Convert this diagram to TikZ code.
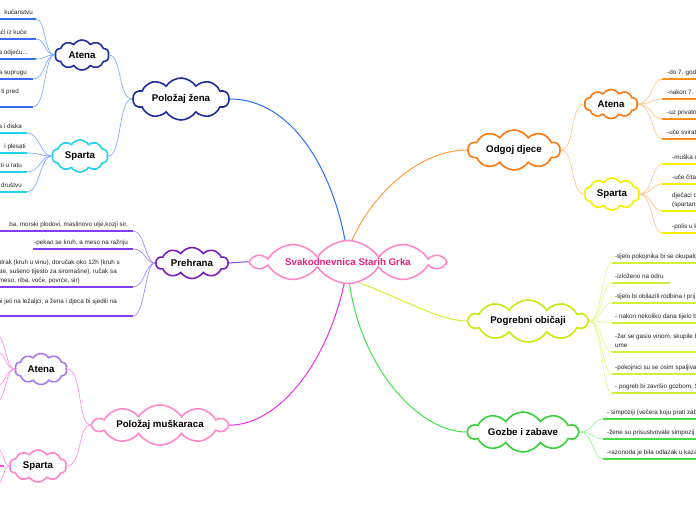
\documentclass[tikz,border=0pt]{standalone}
\usepackage{fontspec}
\setmainfont{Liberation Sans}
\usetikzlibrary{shapes.symbols}
\definecolor{cBlueDark}{HTML}{1C2EA0}
\definecolor{cBlueLine}{HTML}{2A6CFF}
\definecolor{cBlueLight}{HTML}{88AAFF}
\definecolor{cBlueUl}{HTML}{3A6CF0}
\definecolor{cCyan}{HTML}{22D4EA}
\definecolor{cPurple}{HTML}{7A1CC0}
\definecolor{cPurpleLine}{HTML}{7A4AE8}
\definecolor{cPurpleUl}{HTML}{8040F0}
\definecolor{cPurpleLight}{HTML}{A888FF}
\definecolor{cPink}{HTML}{FF88C8}
\definecolor{cTitle}{HTML}{E8207F}
\definecolor{cMag}{HTML}{E830E8}
\definecolor{cPinkLight}{HTML}{FF90F0}
\definecolor{cMagUl}{HTML}{FF40FF}
\definecolor{cLav}{HTML}{A878F0}
\definecolor{cOrange}{HTML}{FF7810}
\definecolor{cOrangeLine}{HTML}{FFA040}
\definecolor{cOrangeLight}{HTML}{FFC890}
\definecolor{cOrangeUl}{HTML}{FF9020}
\definecolor{cYellow}{HTML}{F4F000}
\definecolor{cLime}{HTML}{C4EC10}
\definecolor{cLimeLine}{HTML}{D0F030}
\definecolor{cLimeLight}{HTML}{E4F890}
\definecolor{cLimeUl}{HTML}{D0F040}
\definecolor{cGreen}{HTML}{38D038}
\definecolor{cGreenLine}{HTML}{44E044}
\definecolor{cGreenLight}{HTML}{A0F0A0}
\definecolor{cText}{HTML}{222222}
\tikzset{
  cl/.style={cloud, draw, fill=white, cloud puffs=10, cloud puff arc=115,
    cloud ignores aspect, inner sep=0pt, line width=1.6pt,
    font=\bfseries\fontsize{9.7}{11}\selectfont, text=black},
  leaf/.style={font=\fontsize{6.3}{9}\selectfont, inner sep=0pt, text=cText},
  ul/.style={line width=1.8pt},
  con/.style={line width=0.7pt},
  mcon/.style={line width=1pt},
}
\begin{document}
\begin{tikzpicture}[x=1pt,y=-1pt]
\useasboundingbox (0,0) rectangle (696,520);
\clip (0,0) rectangle (696,520);

% ---------------- central & main nodes ----------------
\node[cl, draw=cPink, minimum width=190, minimum height=43, text=cTitle] (c) at (348,262) {Svakodnevnica Starih Grka};
\node[cl, draw=cBlueDark, minimum width=96, minimum height=42] (pz) at (181,99) {Položaj žena};
\node[cl, draw=cBlueDark, minimum width=54, minimum height=30] (au) at (82,55) {Atena};
\node[cl, draw=cCyan, minimum width=56, minimum height=32] (su) at (80,156) {Sparta};
\node[cl, draw=cPurple, minimum width=72, minimum height=31] (ph) at (192,263) {Prehrana};
\node[cl, draw=cPink, minimum width=134, minimum height=40] (pm) at (160,425) {Položaj muškaraca};
\node[cl, draw=cLav, minimum width=52, minimum height=31] (al) at (41,369) {Atena};
\node[cl, draw=cPink, minimum width=57, minimum height=32] (sl) at (38,466) {Sparta};
\node[cl, draw=cOrange, minimum width=92, minimum height=40] (od) at (514,150) {Odgoj djece};
\node[cl, draw=cOrange, minimum width=53, minimum height=29] (ar) at (611,104) {Atena};
\node[cl, draw=cYellow, minimum width=55, minimum height=32] (sr) at (612,194) {Sparta};
\node[cl, draw=cLime, minimum width=119, minimum height=42] (pg) at (528,321) {Pogrebni običaji};
\node[cl, draw=cGreen, minimum width=110, minimum height=40] (gz) at (523,432) {Gozbe i zabave};

% ---------------- main connectors ----------------
\begin{scope}[on background layer/.style={}]
\end{scope}
\draw[mcon, cBlueLine] (c.98) .. controls (332,170) and (292,99) .. (pz.east);
\draw[mcon, cOrangeLine] (c.80) .. controls (378,185) and (425,150) .. (od.west);
\draw[mcon, cLimeLine] (c.-62) .. controls (405,300) and (440,321) .. (pg.west);
\draw[mcon, cGreenLine] (c.-86) .. controls (362,370) and (420,432) .. (gz.west);
\draw[mcon, cMag] (c.-100) .. controls (325,370) and (275,425) .. (pm.east);
\draw[mcon, cPurpleLine] (c.west) -- (ph.east);

% ---------------- sub connectors ----------------
\draw[con, cBlueLight] (pz.west) .. controls (118,99) and (122,55) .. (au.east);
\draw[con, cBlueLight] (pz.west) .. controls (118,99) and (122,156) .. (su.east);
\draw[con, cOrangeLight] (od.east) .. controls (575,150) and (570,104) .. (ar.west);
\draw[con, cOrangeLight] (od.east) .. controls (575,150) and (570,194) .. (sr.west);
\draw[con, cPinkLight] (pm.west) .. controls (78,425) and (82,369) .. (al.east);
\draw[con, cPinkLight] (pm.west) .. controls (78,425) and (82,466) .. (sl.east);

% ---------------- Polozaj zena / Atena leaves ----------------
\foreach \i/\y/\x in {1/19/36,2/39/36,3/59/36,4/79/33,5/107/33} {
  \coordinate (aus\i) at (-5,\y);
  \coordinate (aue\i) at (\x,\y);
  \draw[ul, cBlueUl] (aus\i) -- (aue\i);
  \draw[con, cBlueLight] (au.west) .. controls (44,55) and (46,\y) .. (aue\i);
}
\node[leaf, anchor=base east] (aut1) at (33,14) {kućanstvu};
\node[leaf, anchor=base east] (aut2) at (27,34) {aći iz kuće};
\node[leaf, anchor=base east] (aut3) at (28,54) {a odjeću...};
\node[leaf, anchor=base east] (aut4) at (27,74) {a suprugu};
\node[leaf, anchor=base east] (aut5) at (19,93) {ti pred};

% ---------------- Polozaj zena / Sparta leaves ----------------
\foreach \i/\y in {1/133,2/153,3/172,4/192} {
  \coordinate (sus\i) at (-5,\y);
  \coordinate (sue\i) at (27,\y);
  \draw[ul, cCyan] (sus\i) -- (sue\i);
  \draw[con, cBlueLight] (su.west) .. controls (40,156) and (40,\y) .. (sue\i);
}
\node[leaf, anchor=base east] (sut1) at (22,128) {a i diska};
\node[leaf, anchor=base east] (sut2) at (26,148) {i plesati};
\node[leaf, anchor=base east] (sut3) at (22,167) {ti u ratu};
\node[leaf, anchor=base east] (sut4) at (22,187) {društvu};

% ---------------- Prehrana leaves ----------------
\foreach \i/\y/\s in {1/231/-5,2/249/33,3/287/-5,4/316/-5} {
  \coordinate (phs\i) at (\s,\y);
  \coordinate (phe\i) at (133,\y);
  \draw[ul, cPurpleUl] (phs\i) -- (phe\i);
  \draw[con, cPurpleLight] (ph.west) .. controls (145,263) and (145,\y) .. (phe\i);
}
\node[leaf, anchor=base east] (pht1) at (128,226) {ba, morski plodovi, maslinovo ulje,kozji sir,};
\node[leaf, anchor=base east] (pht2) at (128,244) {-pekao se kruh, a meso na ražnju};
\node[leaf, anchor=base east] (pht3a) at (120,264) {utrak (kruh u vinu), doručak oko 12h (kruh s};
\node[leaf, anchor=base east] (pht3b) at (117,273) {ate, sušeno tijesto za siromašne), ručak sa};
\node[leaf, anchor=base east] (pht3c) at (80,282) {meso, riba, voće, povrće, sir)};
\node[leaf, anchor=base east] (pht4) at (117,303) {bi jeli na ležaljci, a žena i djeca bi sjedili na};

% ---------------- Polozaj muskaraca sub-branches (off canvas) ----------------
\foreach \i/\y in {1/335,2/352,3/386,4/402} {
  \coordinate (ale\i) at (-4,\y);
  \draw[con, cPinkLight] (al.west) .. controls (5,369) and (6,\y) .. (ale\i);
}
\coordinate (sls1) at (-6,466);
\coordinate (sle1) at (4,466);
\draw[ul, cMagUl] (sls1) -- (sle1);
\foreach \i/\y in {2/448,3/484} {
  \coordinate (sle\i) at (-4,\y);
  \draw[con, cPinkLight] (sl.west) .. controls (3,466) and (4,\y) .. (sle\i);
}

% ---------------- Odgoj djece / Atena leaves ----------------
\foreach \i/\y in {1/79,2/99,3/119,4/139} {
  \coordinate (ars\i) at (662,\y);
  \coordinate (are\i) at (702,\y);
  \draw[ul, cOrangeUl] (ars\i) -- (are\i);
  \draw[con, cOrangeLight] (ar.east) .. controls (652,104) and (652,\y) .. (ars\i);
}
\node[leaf, anchor=base west] (art1) at (667,74) {-do 7. god};
\node[leaf, anchor=base west] (art2) at (667,94) {-nakon 7. g};
\node[leaf, anchor=base west] (art3) at (667,114) {-uz privatn};
\node[leaf, anchor=base west] (art4) at (667,134) {-uče svirat};

% ---------------- Odgoj djece / Sparta leaves ----------------
\foreach \i/\y in {1/164,2/184,3/211,4/233} {
  \coordinate (srs\i) at (662,\y);
  \coordinate (sre\i) at (702,\y);
  \draw[ul, cYellow] (srs\i) -- (sre\i);
  \draw[con, cOrangeLight] (sr.east) .. controls (652,194) and (652,\y) .. (srs\i);
}
\node[leaf, anchor=base west] (srt1) at (672,159) {-muška d};
\node[leaf, anchor=base west] (srt2) at (672,179) {-uče čitat};
\node[leaf, anchor=base west] (srt3a) at (672,197) {dječaci o};
\node[leaf, anchor=base west] (srt3b) at (672,206) {(spartans};
\node[leaf, anchor=base west] (srt4) at (672,228) {-polis u k};

% ---------------- Pogrebni obicaji leaves ----------------
\foreach \i/\y/\e in {1/263/702,2/283/670,3/303/702,4/323/702,5/352/702,6/374/702,7/393/702} {
  \coordinate (pgs\i) at (612,\y);
  \coordinate (pge\i) at (\e,\y);
  \draw[ul, cLimeUl] (pgs\i) -- (pge\i);
  \draw[con, cLimeLight] (pg.east) .. controls (602,321) and (602,\y) .. (pgs\i);
}
\node[leaf, anchor=base west] (pgt1) at (615,258) {-tijelo pokojnika bi se okupalo};
\node[leaf, anchor=base west] (pgt2) at (615,278) {-izloženo na odru};
\node[leaf, anchor=base west] (pgt3) at (615,298) {-tijelo bi obilazili rodbina i prij};
\node[leaf, anchor=base west] (pgt4) at (615,318) {- nakon nekoliko dana tijelo b};
\node[leaf, anchor=base west] (pgt5a) at (615,338) {-žar se gasio vinom, skupile b};
\node[leaf, anchor=base west] (pgt5b) at (615,347) {ume};
\node[leaf, anchor=base west] (pgt6) at (615,369) {-pokojnici su se osim spaljiva};
\node[leaf, anchor=base west] (pgt7) at (615,388) {- pogreb bi završio gozbom, S};

% ---------------- Gozbe i zabave leaves ----------------
\foreach \i/\y in {1/419,2/439,3/459} {
  \coordinate (gzs\i) at (603,\y);
  \coordinate (gze\i) at (702,\y);
  \draw[ul, cGreenLine] (gzs\i) -- (gze\i);
  \draw[con, cGreenLight] (gz.east) .. controls (593,432) and (593,\y) .. (gzs\i);
}
\node[leaf, anchor=base west] (gzt1) at (607,414) {- simpoziji (večera koju prati zab};
\node[leaf, anchor=base west] (gzt2) at (607,434) {-žene su prisustvovale simpozij};
\node[leaf, anchor=base west] (gzt3) at (607,454) {-razonoda je bila odlazak u kaza};

% redraw clouds on top of connectors
\foreach \n in {c,pz,au,su,ph,pm,al,sl,od,ar,sr,pg,gz} {}
\end{tikzpicture}
\end{document}
